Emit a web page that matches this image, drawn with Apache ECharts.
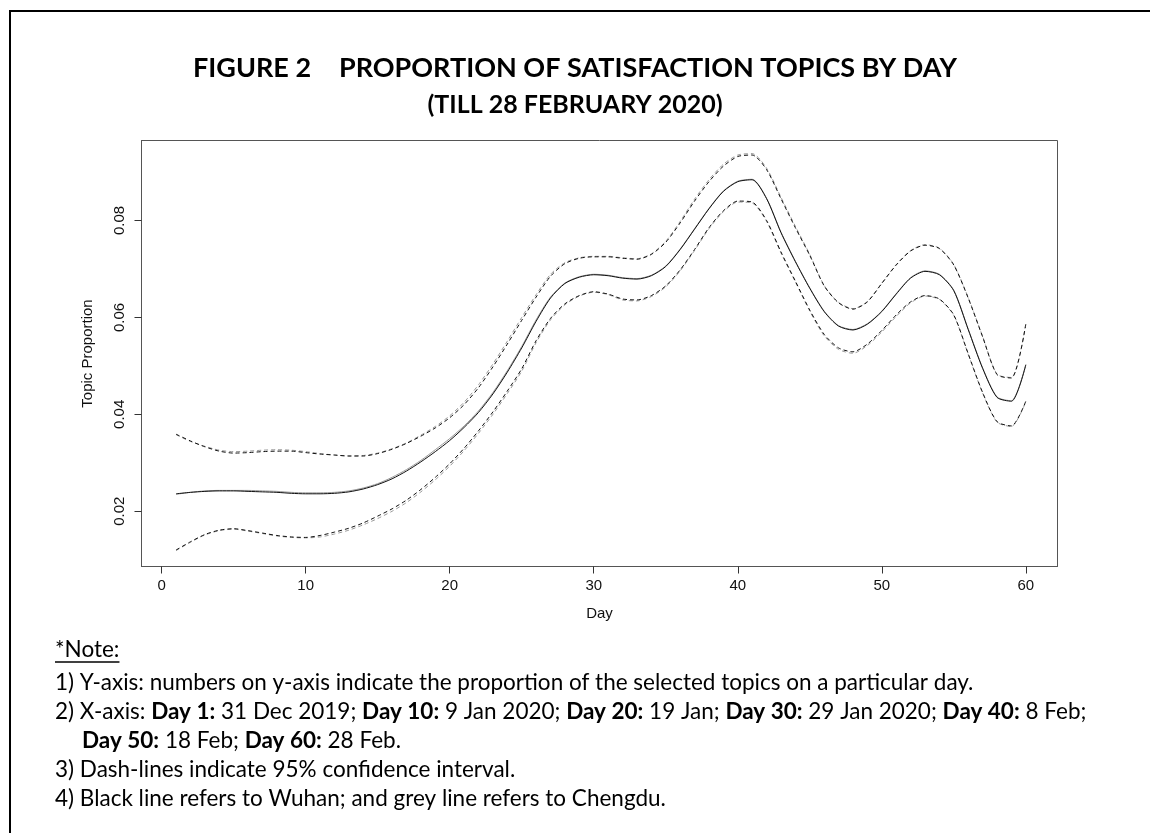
<!DOCTYPE html>
<html>
<head>
<meta charset="utf-8">
<script src="https://cdn.jsdelivr.net/npm/echarts@6/dist/echarts.min.js"></script>
<style>
  html, body { margin: 0; padding: 0; background: #fff; }
  #chart { width: 1150px; height: 833px; }
</style>
</head>
<body>
<div id="chart"></div>
<script>
// Day index 1..60 (31 Dec 2019 .. 28 Feb 2020)
const days = Array.from({ length: 60 }, (_, i) => i + 1);

// Wuhan: estimated topic proportion and 95% CI bounds
const wuhanMean = [
  0.0236, 0.0239, 0.0241, 0.0242, 0.0242, 0.0241, 0.0240, 0.0239, 0.0237, 0.0236,
  0.0236, 0.0237, 0.0240, 0.0246, 0.0255, 0.0267, 0.0283, 0.0302, 0.0323, 0.0346,
  0.0373, 0.0404, 0.0442, 0.0487, 0.0537, 0.0592, 0.0640, 0.0670, 0.0683, 0.0688,
  0.0686, 0.0681, 0.0679, 0.0686, 0.0705, 0.0740, 0.0782, 0.0824, 0.0860, 0.0880,
  0.0884, 0.0845, 0.0775, 0.0715, 0.0660, 0.0612, 0.0582, 0.0574, 0.0586, 0.0612,
  0.0648, 0.0681, 0.0695, 0.0688, 0.0655, 0.0575, 0.0495, 0.0435, 0.0427, 0.0502
];
const wuhanUpper = [
  0.0359, 0.0345, 0.0333, 0.0324, 0.0320, 0.0321, 0.0323, 0.0324, 0.0324, 0.0321,
  0.0318, 0.0316, 0.0314, 0.0314, 0.0319, 0.0328, 0.0340, 0.0355, 0.0372, 0.0393,
  0.0420, 0.0455, 0.0498, 0.0545, 0.0594, 0.0642, 0.0685, 0.0711, 0.0722, 0.0725,
  0.0725, 0.0722, 0.0720, 0.0730, 0.0755, 0.0795, 0.0840, 0.0880, 0.0912, 0.0932,
  0.0935, 0.0905, 0.0845, 0.0785, 0.0728, 0.0665, 0.0630, 0.0617, 0.0632, 0.0670,
  0.0708, 0.0737, 0.0749, 0.0742, 0.0708, 0.0640, 0.0560, 0.0482, 0.0475, 0.0586
];
const wuhanLower = [
  0.0120, 0.0137, 0.0152, 0.0161, 0.0164, 0.0160, 0.0155, 0.0150, 0.0147, 0.0146,
  0.0150, 0.0157, 0.0165, 0.0176, 0.0190, 0.0205, 0.0223, 0.0245, 0.0270, 0.0298,
  0.0330, 0.0366, 0.0405, 0.0448, 0.0494, 0.0552, 0.0598, 0.0628, 0.0645, 0.0653,
  0.0648, 0.0638, 0.0636, 0.0645, 0.0665, 0.0698, 0.0740, 0.0785, 0.0820, 0.0840,
  0.0838, 0.0800, 0.0735, 0.0675, 0.0615, 0.0565, 0.0537, 0.0529, 0.0545, 0.0573,
  0.0605, 0.0632, 0.0645, 0.0638, 0.0605, 0.0525, 0.0445, 0.0385, 0.0376, 0.0427
];

// Chengdu: estimated topic proportion and 95% CI bounds
const chengduMean = [
  0.0235, 0.0239, 0.0242, 0.0243, 0.0243, 0.0243, 0.0242, 0.0241, 0.0239, 0.0238,
  0.0238, 0.0239, 0.0242, 0.0248, 0.0257, 0.0270, 0.0286, 0.0305, 0.0327, 0.0350,
  0.0376, 0.0407, 0.0445, 0.0490, 0.0540, 0.0595, 0.0642, 0.0671, 0.0684, 0.0689,
  0.0687, 0.0682, 0.0680, 0.0687, 0.0706, 0.0741, 0.0783, 0.0825, 0.0861, 0.0881,
  0.0885, 0.0846, 0.0776, 0.0716, 0.0661, 0.0613, 0.0583, 0.0575, 0.0587, 0.0613,
  0.0649, 0.0682, 0.0696, 0.0689, 0.0656, 0.0576, 0.0496, 0.0436, 0.0428, 0.0503
];
const chengduUpper = [
  0.0358, 0.0344, 0.0334, 0.0326, 0.0323, 0.0324, 0.0326, 0.0327, 0.0326, 0.0323,
  0.0319, 0.0316, 0.0314, 0.0315, 0.0320, 0.0329, 0.0341, 0.0357, 0.0375, 0.0397,
  0.0425, 0.0461, 0.0504, 0.0551, 0.0600, 0.0647, 0.0689, 0.0713, 0.0723, 0.0726,
  0.0726, 0.0723, 0.0721, 0.0731, 0.0757, 0.0798, 0.0844, 0.0884, 0.0916, 0.0935,
  0.0938, 0.0908, 0.0848, 0.0788, 0.0730, 0.0666, 0.0631, 0.0618, 0.0633, 0.0671,
  0.0709, 0.0738, 0.0750, 0.0743, 0.0709, 0.0641, 0.0561, 0.0483, 0.0476, 0.0587
];
const chengduLower = [
  0.0119, 0.0136, 0.0151, 0.0160, 0.0163, 0.0159, 0.0154, 0.0149, 0.0146, 0.0145,
  0.0147, 0.0153, 0.0161, 0.0172, 0.0185, 0.0200, 0.0218, 0.0240, 0.0265, 0.0293,
  0.0325, 0.0361, 0.0400, 0.0443, 0.0489, 0.0548, 0.0595, 0.0626, 0.0644, 0.0652,
  0.0647, 0.0636, 0.0634, 0.0643, 0.0663, 0.0696, 0.0738, 0.0783, 0.0818, 0.0838,
  0.0836, 0.0798, 0.0733, 0.0673, 0.0613, 0.0562, 0.0534, 0.0526, 0.0542, 0.0570,
  0.0602, 0.0630, 0.0644, 0.0637, 0.0604, 0.0524, 0.0444, 0.0384, 0.0375, 0.0426
];

// Axis ticks
const xTicks = [0, 10, 20, 30, 40, 50, 60];
const yTicks = [0.02, 0.04, 0.06, 0.08];

// Texts
const titleLead = 'FIGURE 2';
const titleMain = 'PROPORTION OF SATISFACTION TOPICS BY DAY';
const titleSub = '(TILL 28 FEBRUARY 2020)';
const noteHead = '*Note:';
// each note line: list of [text, bold]
const noteLines = [
  [['1) Y-axis: numbers on y-axis indicate the proportion of the selected topics on a particular day.', false]],
  [['2) X-axis: ', false], ['Day 1:', true], [' 31 Dec 2019; ', false], ['Day 10:', true], [' 9 Jan 2020; ', false],
   ['Day 20:', true], [' 19 Jan; ', false], ['Day 30:', true], [' 29 Jan 2020; ', false], ['Day 40:', true], [' 8 Feb;', false]],
  [['Day 50:', true], [' 18 Feb; ', false], ['Day 60:', true], [' 28 Feb.', false]],
  [['3) Dash-lines indicate 95% confidence interval.', false]],
  [['4) Black line refers to Wuhan; and grey line refers to Chengdu.', false]]
];

const pairs = arr => days.map((d, i) => [d, arr[i]]);

const BLACK = '#111';
const GREY = '#9a9a9a';
function lineSeries(name, arr, color, dashed, z) {
  return {
    name: name,
    type: 'line',
    data: pairs(arr),
    showSymbol: false,
    smooth: 0.25,
    z: z,
    silent: true,
    lineStyle: { color: color, width: 1, type: dashed ? [4, 3] : 'solid' }
  };
}

const chart = echarts.init(document.getElementById('chart'), null, { renderer: 'canvas' });

const NOTE_FONT = 'Lato';
const NOTE_SIZE = 22.5;
const measureCtx = document.createElement('canvas').getContext('2d');
function textWidth(txt, bold) {
  measureCtx.font = (bold ? 'bold ' : '') + NOTE_SIZE + 'px ' + NOTE_FONT;
  return measureCtx.measureText(txt).width;
}

const graphics = [
  { type: 'rect', silent: true, z: 100,
    shape: { x: 10, y: 11, width: 1200, height: 900 },
    style: { fill: 'none', stroke: '#000', lineWidth: 2 } },
  { type: 'text', x: 193, y: 68, silent: true,
    style: { text: titleLead, fontFamily: 'Lato', fontWeight: 'bold', fontSize: 27, fill: '#000', verticalAlign: 'middle' } },
  { type: 'text', x: 957, y: 68, silent: true,
    style: { text: titleMain, fontFamily: 'Lato', fontWeight: 'bold', fontSize: 27, fill: '#000', align: 'right', verticalAlign: 'middle' } },
  { type: 'text', x: 575, y: 105, silent: true,
    style: { text: titleSub, fontFamily: 'Lato', fontWeight: 'bold', fontSize: 25, fill: '#000', align: 'center', verticalAlign: 'middle' } },
  { type: 'text', x: 55, y: 650, silent: true,
    style: { text: noteHead, fontFamily: NOTE_FONT, fontSize: NOTE_SIZE, fill: '#000', verticalAlign: 'middle' } },
  { type: 'line', silent: true,
    shape: { x1: 55, y1: 662, x2: 55 + textWidth(noteHead, false), y2: 662 },
    style: { stroke: '#000', lineWidth: 1.5 } }
];

const noteY = [683, 712, 741, 770, 799];
const noteX = [55, 55, 82, 55, 55];
noteLines.forEach((segs, i) => {
  let cx = noteX[i];
  segs.forEach(([txt, bold]) => {
    graphics.push({
      type: 'text', x: cx, y: noteY[i], silent: true,
      style: { text: txt, fontFamily: NOTE_FONT, fontSize: NOTE_SIZE,
               fontWeight: bold ? 'bold' : 'normal', fill: '#000', verticalAlign: 'middle' }
    });
    cx += textWidth(txt, bold);
  });
});

const axisFont = 'Liberation Sans';

chart.setOption({
  animation: false,
  backgroundColor: '#fff',
  grid: {
    left: 141.5, top: 140.5, width: 916, height: 426,
    show: true, borderColor: '#555', borderWidth: 1, backgroundColor: 'transparent'
  },
  xAxis: {
    type: 'value',
    min: -1.4, max: 62.2,
    name: 'Day',
    nameLocation: 'middle',
    nameGap: 40,
    nameTextStyle: { fontFamily: axisFont, fontSize: 15, color: '#111' },
    axisLine: { show: true, onZero: false, lineStyle: { color: '#555', width: 1 } },
    splitLine: { show: false },
    axisTick: { show: true, customValues: xTicks, length: 7, lineStyle: { color: '#333', width: 1 } },
    axisLabel: { customValues: xTicks, fontFamily: axisFont, fontSize: 15, color: '#111', margin: 12 }
  },
  yAxis: {
    type: 'value',
    min: 0.0086, max: 0.0965,
    name: 'Topic Proportion',
    nameLocation: 'middle',
    nameGap: 46,
    nameTextStyle: { fontFamily: axisFont, fontSize: 15, color: '#111' },
    axisLine: { show: true, onZero: false, lineStyle: { color: '#555', width: 1 } },
    splitLine: { show: false },
    axisTick: { show: true, customValues: yTicks, length: 7, lineStyle: { color: '#333', width: 1 } },
    axisLabel: {
      customValues: yTicks, rotate: 90, fontFamily: axisFont, fontSize: 15, color: '#111', margin: 14,
      formatter: v => v.toFixed(2)
    }
  },
  series: [
    lineSeries('Chengdu upper', chengduUpper, GREY, true, 2),
    lineSeries('Chengdu lower', chengduLower, GREY, true, 2),
    lineSeries('Chengdu', chengduMean, GREY, false, 2),
    lineSeries('Wuhan upper', wuhanUpper, BLACK, true, 3),
    lineSeries('Wuhan lower', wuhanLower, BLACK, true, 3),
    lineSeries('Wuhan', wuhanMean, BLACK, false, 3)
  ],
  graphic: graphics
});
</script>
</body>
</html>
